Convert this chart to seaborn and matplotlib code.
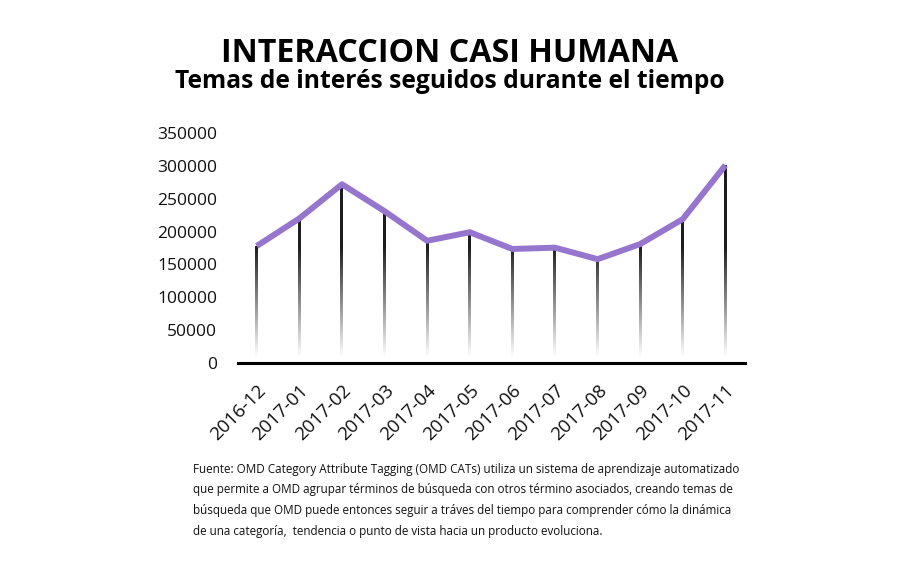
import matplotlib
matplotlib.use("Agg")
import matplotlib.pyplot as plt
import seaborn as sns
import numpy as np
import pandas as pd
from matplotlib.colors import LinearSegmentedColormap

# values
months = ['2016-12', '2017-01', '2017-02', '2017-03', '2017-04', '2017-05',
          '2017-06', '2017-07', '2017-08', '2017-09', '2017-10', '2017-11']
interest = [178000, 220000, 272000, 231000, 186000, 199000,
            173500, 175500, 158000, 181000, 219000, 301000]
yticks = [0, 50000, 100000, 150000, 200000, 250000, 300000, 350000]

title = 'INTERACCION CASI HUMANA'
subtitle = 'Temas de interés seguidos durante el tiempo'
note = ('Fuente: OMD Category Attribute Tagging (OMD CATs) utiliza un sistema de aprendizaje automatizado\n'
        'que permite a OMD agrupar términos de búsqueda con otros término asociados, creando temas de\n'
        'búsqueda que OMD puede entonces seguir a tráves del tiempo para comprender cómo la dinámica\n'
        'de una categoría,  tendencia o punto de vista hacia un producto evoluciona.')

sns.set_style('white')
plt.rcParams['font.family'] = ['Open Sans', 'DejaVu Sans']

df = pd.DataFrame({'month': months, 'interest': interest})

fig = plt.figure(figsize=(9, 5.77), dpi=100)
ax = fig.add_axes([238 / 900, 1 - 363 / 577, (745 - 238) / 900, (363 - 133) / 577])

# fading stems: dark at the top, transparent towards the baseline
fade = LinearSegmentedColormap.from_list('fade', [(0.12, 0.12, 0.12, 0.0), (0.12, 0.12, 0.12, 1.0)])
for i, v in enumerate(df['interest']):
    ys = np.linspace(0, v, 200)
    a = np.clip((ys - 8000) / (175000 - 8000), 0, 1)
    ax.imshow(a.reshape(-1, 1), extent=[i - 0.035, i + 0.035, 0, v], origin='lower',
              aspect='auto', cmap=fade, vmin=0, vmax=1, zorder=2, interpolation='bilinear')

sns.lineplot(data=df, x=range(len(months)), y='interest', color='#9575cd',
             linewidth=4.3, ax=ax, zorder=3, solid_capstyle='butt')
for ln in ax.lines:
    ln.set_clip_on(False)

ax.set_xlim(-0.44, 11.46)
ax.set_ylim(0, 350000)
ax.set_yticks(yticks)
ax.set_yticklabels([str(t) for t in yticks], fontsize=12.5, color='#111111')
ax.set_xticks(range(len(months)))
ax.set_xticklabels(months, rotation=45, ha='right', rotation_mode='anchor',
                   fontsize=13.5, color='#111111')
ax.tick_params(axis='y', length=0, pad=15)
ax.tick_params(axis='x', length=0, pad=13)
ax.set_xlabel('')
ax.set_ylabel('')
for s in ['top', 'right', 'left']:
    ax.spines[s].set_visible(False)
ax.spines['bottom'].set_linewidth(2.2)
ax.spines['bottom'].set_color('black')

fig.text(0.5, 1 - 53 / 577, title, ha='center', va='center', fontsize=23.2,
         fontweight='bold', color='black')
fig.text(0.5, 1 - 81 / 577, subtitle, ha='center', va='center', fontsize=17.7,
         fontweight='bold', color='black')
fig.text(193 / 900, 1 - 463 / 577, note, ha='left', va='top', fontsize=8.4,
         color='#111111', linespacing=1.75)

fig.savefig('out.png', dpi=100, facecolor='white')
